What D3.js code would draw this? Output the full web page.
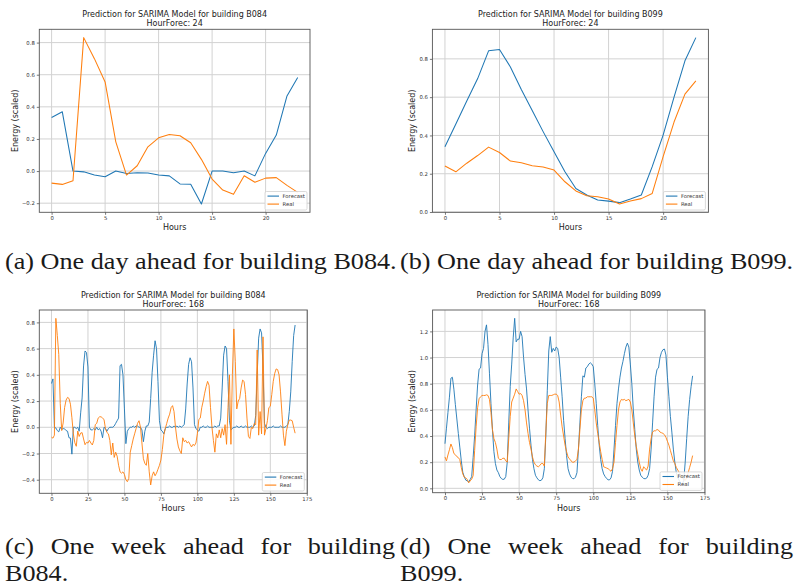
<!DOCTYPE html>
<html>
<head>
<meta charset="utf-8">
<script src="https://cdn.jsdelivr.net/npm/d3@7"></script>
<style>
  body { margin: 0; background: #fff; }
  svg { display: block; }
</style>
</head>
<body>
<svg id="fig" width="796" height="586"></svg>
<script>
// ---- datos ----
const dayTicks = [0, 5, 10, 15, 20];
const weekTicks = [0, 25, 50, 75, 100, 125, 150, 175];
const yTicksA = [-0.2, 0.0, 0.2, 0.4, 0.6, 0.8];
const yTicksB = [0.0, 0.2, 0.4, 0.6, 0.8];
const yTicksC = [-0.4, -0.2, 0.0, 0.2, 0.4, 0.6, 0.8];
const yTicksD = [0.0, 0.2, 0.4, 0.6, 0.8, 1.0, 1.2];
const seriesNames = ["Forecast", "Real"];

const fcDayB084 = [0.334,0.369,0.0,-0.005,-0.025,-0.035,0.0,-0.015,-0.01,-0.012,
  -0.025,-0.03,-0.08,-0.082,-0.205,0.0,0.0,-0.01,0.0,-0.03,
  0.11,0.224,0.468,0.582];
const realDayB084 = [-0.075,-0.083,-0.06,0.831,0.70,0.555,0.182,-0.025,0.033,0.151,
  0.207,0.228,0.22,0.176,0.073,-0.05,-0.118,-0.145,-0.029,-0.07,
  -0.044,-0.041,-0.089,-0.133];

const fcDayB099 = [0.341,0.46,0.58,0.697,0.842,0.849,0.758,0.64,0.53,0.42,
  0.315,0.21,0.123,0.089,0.063,0.057,0.049,0.068,0.089,0.237,
  0.402,0.6,0.79,0.911];
const realDayB099 = [0.24,0.21,0.255,0.295,0.339,0.311,0.266,0.257,0.242,0.235,
  0.219,0.158,0.11,0.085,0.08,0.068,0.042,0.057,0.07,0.097,
  0.289,0.47,0.616,0.685];

const fcWeekB084 = [0.334,0.369,0.0,-0.005,-0.025,-0.035,0.0,-0.015,-0.01,-0.012,
  -0.025,-0.03,-0.08,-0.082,-0.205,0.0,0.0,-0.01,0.0,-0.03,
  0.11,0.224,0.468,0.582,0.57,0.46,0.0,-0.02,-0.02,-0.01,
  -0.02,0.0,-0.02,-0.01,-0.03,-0.08,0.0,-0.01,-0.03,-0.01,
  0.0,0.0,0.0,0.01,0.03,0.05,0.07,0.47,0.48,0.4,
  0.14,-0.125,-0.03,-0.01,0.0,0.0,0.01,0.0,0.01,0.01,
  0.0,0.0,-0.02,-0.11,-0.03,0.01,0.01,0.04,0.22,0.42,
  0.55,0.66,0.6,0.35,0.05,-0.02,-0.03,-0.05,-0.01,0.0,
  0.0,0.01,0.0,0.0,0.01,0.0,0.01,0.0,0.01,0.0,
  0.01,0.02,0.14,0.33,0.48,0.53,0.5,0.3,0.02,-0.01,
  -0.02,-0.03,0.0,0.0,0.01,0.0,0.0,0.01,0.0,0.0,
  0.0,0.0,0.01,0.0,0.01,0.01,0.07,0.3,0.55,0.62,
  0.6,0.35,0.05,-0.02,-0.01,0.0,0.0,0.01,0.0,0.0,
  0.01,0.0,0.0,0.01,0.0,0.0,0.0,0.01,0.0,0.01,
  0.09,0.4,0.68,0.75,0.72,0.45,0.03,0.0,-0.01,0.0,
  0.0,0.0,0.01,0.0,0.0,0.0,0.0,0.01,0.0,0.0,
  0.0,0.01,0.02,0.12,0.27,0.5,0.7,0.78];
const realWeekB084 = [-0.075,-0.083,-0.06,0.831,0.70,0.555,0.182,-0.025,0.033,0.151,
  0.207,0.228,0.22,0.176,0.073,-0.05,-0.118,-0.145,-0.029,-0.07,
  -0.044,-0.041,-0.089,-0.133,-0.115,-0.12,-0.1,-0.12,-0.135,-0.1,
  0.02,0.03,0.07,0.08,0.08,0.07,0.06,-0.01,-0.04,-0.05,
  -0.1,-0.21,-0.12,-0.23,-0.19,-0.22,-0.29,-0.34,-0.35,-0.34,
  -0.36,-0.4,-0.415,-0.39,-0.19,-0.14,-0.09,-0.05,-0.01,0.03,
  0.05,0.0,-0.12,-0.24,-0.275,-0.29,-0.2,-0.34,-0.44,-0.37,
  -0.34,-0.37,-0.35,-0.32,-0.29,-0.25,-0.17,-0.06,-0.01,0.03,
  0.07,0.1,0.15,0.165,0.12,0.0,-0.09,-0.15,-0.18,-0.2,
  -0.08,-0.11,-0.1,-0.12,-0.11,-0.13,-0.15,-0.13,-0.14,-0.12,
  -0.05,0.06,0.07,0.15,0.2,0.26,0.31,0.35,0.32,0.15,
  0.0,-0.1,-0.19,-0.05,-0.08,-0.02,-0.08,-0.01,-0.06,0.02,
  -0.13,0.15,0.4,-0.13,0.4,0.75,0.5,0.14,0.2,0.22,
  0.3,0.36,0.35,0.25,0.07,-0.07,-0.085,0.0,-0.01,0.03,
  0.02,0.59,-0.06,0.12,-0.05,0.69,-0.06,-0.01,0.05,0.15,
  0.16,0.25,0.35,0.41,0.445,0.44,0.4,0.27,0.1,-0.06,
  -0.14,-0.03,0.02,0.055,0.055,0.05,0.0,-0.045];

const fcWeekB099 = [0.341,0.46,0.58,0.697,0.842,0.849,0.758,0.64,0.53,0.42,
  0.315,0.21,0.123,0.089,0.063,0.057,0.049,0.068,0.089,0.237,
  0.402,0.6,0.79,0.911,0.92,1.03,1.07,1.2,1.25,1.1,
  0.88,0.65,0.45,0.28,0.19,0.14,0.12,0.09,0.075,0.068,
  0.07,0.09,0.2,0.5,0.78,0.95,1.15,1.3,1.12,1.14,
  1.14,1.2,1.16,1.0,0.87,0.76,0.6,0.46,0.33,0.22,
  0.15,0.1,0.08,0.065,0.058,0.062,0.08,0.15,0.4,0.75,
  1.05,1.16,1.04,1.07,1.05,1.08,1.07,1.0,0.85,0.7,
  0.52,0.38,0.25,0.15,0.11,0.085,0.075,0.073,0.085,0.12,
  0.3,0.5,0.7,0.86,0.85,0.92,0.93,0.95,0.96,0.95,
  0.93,0.8,0.65,0.48,0.33,0.22,0.15,0.11,0.09,0.075,
  0.065,0.065,0.08,0.13,0.3,0.48,0.65,0.76,0.85,0.92,
  0.97,1.03,1.08,1.11,1.08,0.95,0.8,0.6,0.45,0.3,
  0.2,0.14,0.1,0.085,0.075,0.073,0.078,0.1,0.15,0.3,
  0.5,0.7,0.85,0.91,0.92,1.0,1.04,1.06,1.065,1.02,
  0.85,0.7,0.55,0.43,0.3,0.2,0.12,0.08,0.06,0.04,
  0.03,0.06,0.2,0.38,0.55,0.68,0.78,0.86];
const realWeekB099 = [0.24,0.21,0.255,0.295,0.339,0.311,0.266,0.257,0.242,0.235,
  0.219,0.158,0.11,0.085,0.08,0.068,0.042,0.057,0.07,0.097,
  0.289,0.47,0.616,0.685,0.7,0.71,0.71,0.71,0.715,0.71,
  0.68,0.58,0.45,0.38,0.35,0.3,0.23,0.22,0.22,0.23,
  0.23,0.21,0.2,0.38,0.55,0.66,0.69,0.72,0.76,0.74,
  0.72,0.725,0.71,0.67,0.6,0.5,0.42,0.35,0.3,0.24,
  0.2,0.18,0.17,0.165,0.175,0.19,0.19,0.17,0.43,0.65,
  0.71,0.71,0.71,0.715,0.72,0.72,0.71,0.66,0.56,0.47,
  0.4,0.33,0.28,0.24,0.225,0.21,0.2,0.2,0.21,0.22,
  0.3,0.45,0.6,0.67,0.69,0.69,0.7,0.7,0.7,0.7,
  0.69,0.6,0.5,0.42,0.35,0.28,0.22,0.165,0.16,0.155,
  0.15,0.14,0.13,0.15,0.2,0.35,0.48,0.6,0.66,0.68,
  0.675,0.68,0.67,0.675,0.68,0.66,0.6,0.5,0.4,0.32,
  0.26,0.2,0.15,0.13,0.165,0.15,0.14,0.17,0.3,0.38,
  0.43,0.44,0.44,0.45,0.445,0.43,0.425,0.42,0.41,0.39,
  0.36,0.33,0.29,0.25,0.21,0.19,0.16,0.14,0.12,0.1,
  0.08,0.07,0.06,0.08,0.12,0.16,0.2,0.25];

// ---- estilo ----
const colForecast = "#1f77b4";
const colReal = "#ff7f0e";
const sans = "'DejaVu Sans', sans-serif";
const serif = "'Liberation Serif', serif";

const svg = d3.select("#fig");

// cajas de los ejes [izq, arriba, der, abajo]
const panels = [
  { title: "Prediction for SARIMA Model for building B084", sub: "HourForec: 24",
    box: [39.3, 29.3, 310, 212.3], fc: fcDayB084, real: realDayB084,
    xTicks: dayTicks, yTicks: yTicksA, lw: 1.05 },
  { title: "Prediction for SARIMA Model for building B099", sub: "HourForec: 24",
    box: [432.4, 29.3, 708.4, 212.3], fc: fcDayB099, real: realDayB099,
    xTicks: dayTicks, yTicks: yTicksB, lw: 1.05 },
  { title: "Prediction for SARIMA Model for building B084", sub: "HourForec: 168",
    box: [39.3, 310, 307.3, 493.3], fc: fcWeekB084, real: realWeekB084,
    xTicks: weekTicks, yTicks: yTicksC, lw: 0.9 },
  { title: "Prediction for SARIMA Model for building B099", sub: "HourForec: 168",
    box: [432.6, 310, 705, 492.7], fc: fcWeekB099, real: realWeekB099,
    xTicks: weekTicks, yTicks: yTicksD, lw: 0.9 }
];

// margen del 5% como matplotlib
const pad = ([a, b]) => [a - (b - a) * 0.05, b + (b - a) * 0.05];

const drawPanel = (p) => {
  const [x0, y0, x1, y1] = p.box;
  const hours = d3.range(p.fc.length);
  const x = d3.scaleLinear().domain(pad(d3.extent(hours))).range([x0, x1]);
  const y = d3.scaleLinear().domain(pad(d3.extent(p.fc.concat(p.real)))).range([y1, y0]);
  const g = svg.append("g");

  // rejilla
  g.append("g").selectAll("line").data(p.xTicks).join("line")
    .attr("x1", d => x(d)).attr("x2", d => x(d)).attr("y1", y0).attr("y2", y1)
    .attr("stroke", "#d2d2d2").attr("stroke-width", 1);
  g.append("g").selectAll("line").data(p.yTicks).join("line")
    .attr("y1", d => y(d)).attr("y2", d => y(d)).attr("x1", x0).attr("x2", x1)
    .attr("stroke", "#d2d2d2").attr("stroke-width", 1);

  // ejes
  const xAxis = g.append("g").attr("transform", `translate(0,${y1})`)
    .call(d3.axisBottom(x).tickValues(p.xTicks).tickSize(2.5).tickPadding(1.5).tickFormat(d3.format("d")));
  const yAxis = g.append("g").attr("transform", `translate(${x0},0)`)
    .call(d3.axisLeft(y).tickValues(p.yTicks).tickSize(2.5).tickPadding(2).tickFormat(d3.format(".1f")));
  [xAxis, yAxis].forEach(a => {
    a.select(".domain").remove();
    a.selectAll(".tick line").attr("stroke", "#555").attr("stroke-width", 0.8);
    a.selectAll(".tick text").attr("fill", "#333").style("font-family", sans).style("font-size", "5.3px");
  });

  // series
  const line = d3.line().x((d, i) => x(i)).y(d => y(d));
  g.append("path").datum(p.fc).attr("d", line).attr("fill", "none")
    .attr("stroke", colForecast).attr("stroke-width", p.lw).attr("stroke-linejoin", "round");
  g.append("path").datum(p.real).attr("d", line).attr("fill", "none")
    .attr("stroke", colReal).attr("stroke-width", p.lw).attr("stroke-linejoin", "round");

  // marco
  g.append("rect").attr("x", x0).attr("y", y0).attr("width", x1 - x0).attr("height", y1 - y0)
    .attr("fill", "none").attr("stroke", "#555").attr("stroke-width", 0.9);

  // titulos
  const cx = (x0 + x1) / 2;
  g.append("text").attr("x", cx).attr("y", y0 - 12.3).attr("text-anchor", "middle")
    .style("font-family", sans).style("font-size", "8px").attr("fill", "#222").text(p.title);
  g.append("text").attr("x", cx).attr("y", y0 - 3.4).attr("text-anchor", "middle")
    .style("font-family", sans).style("font-size", "8px").attr("fill", "#222").text(p.sub);

  // etiquetas de ejes
  g.append("text").attr("x", cx).attr("y", y1 + 18).attr("text-anchor", "middle")
    .style("font-family", sans).style("font-size", "8px").attr("fill", "#222").text("Hours");
  const tickW = d3.max(yAxis.selectAll(".tick text").nodes(), n => n.getBBox().width);
  const ly = x0 - 4.5 - tickW - 6.6;
  g.append("text").attr("transform", `translate(${ly},${(y0 + y1) / 2}) rotate(-90)`)
    .attr("dy", "0.35em").attr("text-anchor", "middle")
    .style("font-family", sans).style("font-size", "8px").attr("fill", "#222").text("Energy (scaled)");

  // leyenda
  const bw = 42, bh = 18.5;
  const bx = x1 - 3 - bw, by = y1 - 2.3 - bh;
  const lg = g.append("g").attr("transform", `translate(${bx},${by})`);
  lg.append("rect").attr("width", bw).attr("height", bh).attr("rx", 1.5)
    .attr("fill", "#fff").attr("fill-opacity", 0.85).attr("stroke", "#d0d0d0").attr("stroke-width", 0.8);
  [colForecast, colReal].forEach((c, i) => {
    const ry = 4.6 + i * 8;
    lg.append("line").attr("x1", 2.5).attr("x2", 14).attr("y1", ry).attr("y2", ry)
      .attr("stroke", c).attr("stroke-width", 1.1);
    lg.append("text").attr("x", 17.5).attr("y", ry).attr("dy", "0.35em")
      .style("font-family", sans).style("font-size", "5.3px").attr("fill", "#333").text(seriesNames[i]);
  });
};

panels.forEach(drawPanel);

// ---- subtitulos (estilo LaTeX) ----
const capSize = 23;
const capText = (x, y, s, sx) => svg.append("text")
  .attr("transform", `translate(${x},${y}) scale(${sx},1)`)
  .style("font-family", serif).style("font-size", capSize + "px").attr("fill", "#1a1a1a").text(s);

// escala horizontal para imitar el ancho de Computer Modern
const probe = capText(0, -50, "(a) One day ahead for building B084.", 1);
const sx = 392 / probe.node().getComputedTextLength();
probe.remove();

capText(5, 269, "(a) One day ahead for building B084.", sx);
capText(400, 269, "(b) One day ahead for building B099.", sx);

// linea justificada
const justify = (x, xr, y, words) => {
  const nodes = words.map(w => capText(0, y, w, sx));
  const widths = nodes.map(n => n.node().getComputedTextLength() * sx);
  const gap = (xr - x - d3.sum(widths)) / (words.length - 1);
  let cur = x;
  nodes.forEach((n, i) => {
    n.attr("transform", `translate(${cur},${y}) scale(${sx},1)`);
    cur += widths[i] + gap;
  });
};
justify(5, 395, 554, ["(c)", "One", "week", "ahead", "for", "building"]);
justify(400, 793, 554, ["(d)", "One", "week", "ahead", "for", "building"]);
capText(5, 580.5, "B084.", sx);
capText(400, 580.5, "B099.", sx);
</script>
</body>
</html>
